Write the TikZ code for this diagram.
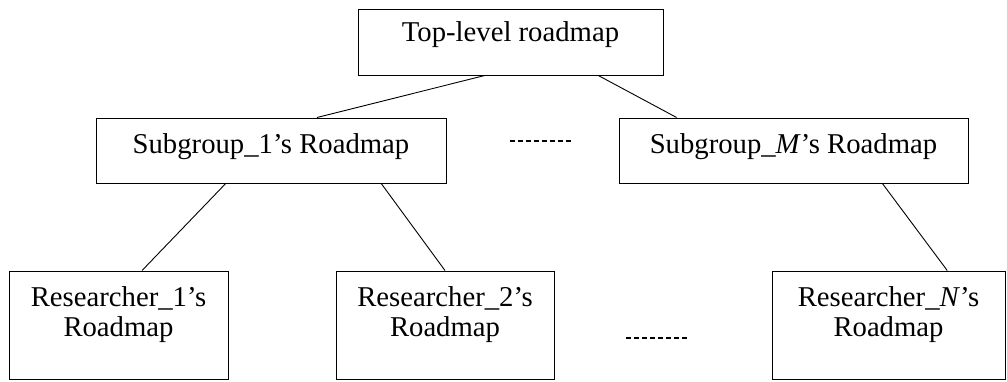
\documentclass[tikz,border=0pt]{standalone}
\usepackage{fontspec}
\setmainfont{Liberation Serif}
\usetikzlibrary{calc}
\begin{document}
\begin{tikzpicture}[x=1pt,y=-1pt,
  box/.style={draw, line width=1pt, inner sep=0pt},
  lbl/.style={font=\fontsize{28.7}{30}\selectfont, inner sep=0pt, align=center},
  conn/.style={line width=0.9pt},
  dots/.style={line width=1.3pt, dash pattern=on 5pt off 3pt}]
\useasboundingbox (0,0) rectangle (1007,381);
% boxes
\node[box, minimum width=305pt, minimum height=66pt] (top) at (510.5,42) {};
\node[box, minimum width=350pt, minimum height=65pt] (sg1) at (271,150.5) {};
\node[box, minimum width=349pt, minimum height=65pt] (sgM) at (793.5,150.5) {};
\node[box, minimum width=219pt, minimum height=108pt] (r1) at (118.5,325) {};
\node[box, minimum width=218pt, minimum height=108pt] (r2) at (445,325) {};
\node[box, minimum width=233pt, minimum height=108pt] (rN) at (888.5,325) {};
% labels
\node[lbl, anchor=base] (topT) at ($(top.north)+(0,33)$) {Top-level roadmap};
\node[lbl, anchor=base] (sg1T) at ($(sg1.north)+(0,36)$) {Subgroup\_1’s Roadmap};
\node[lbl, anchor=base] (sgMT) at ($(sgM.north)+(0,36)$) {Subgroup\_\textit{M}’s Roadmap};
\node[lbl, anchor=north] (r1T) at ($(r1.north)+(0,16)$) {Researcher\_1’s\\Roadmap};
\node[lbl, anchor=north] (r2T) at ($(r2.north)+(0,16)$) {Researcher\_2’s\\Roadmap};
\node[lbl, anchor=north] (rNT) at ($(rN.north)+(0,16)$) {Researcher\_\textit{N}’s\\Roadmap};
% connectors
\draw[conn] ($(top.south west)!0.416!(top.south east)$) -- ($(sg1.north west)!0.631!(sg1.north east)$);
\draw[conn] ($(top.south west)!0.787!(top.south east)$) -- ($(sgM.north west)!0.166!(sgM.north east)$);
\draw[conn] ($(sg1.south west)!0.371!(sg1.south east)$) -- ($(r1.north west)!0.607!(r1.north east)$);
\draw[conn] ($(sg1.south west)!0.814!(sg1.south east)$) -- ($(r2.north west)!0.5!(r2.north east)$);
\draw[conn] ($(sgM.south west)!0.754!(sgM.south east)$) -- ($(rN.north west)!0.751!(rN.north east)$);
% dashes
\coordinate (d1a) at (510,141);
\coordinate (d1b) at (571,141);
\coordinate (d2a) at (626,338);
\coordinate (d2b) at (687,338);
\draw[dots] (d1a) -- (d1b);
\draw[dots] (d2a) -- (d2b);
\end{tikzpicture}
\end{document}
